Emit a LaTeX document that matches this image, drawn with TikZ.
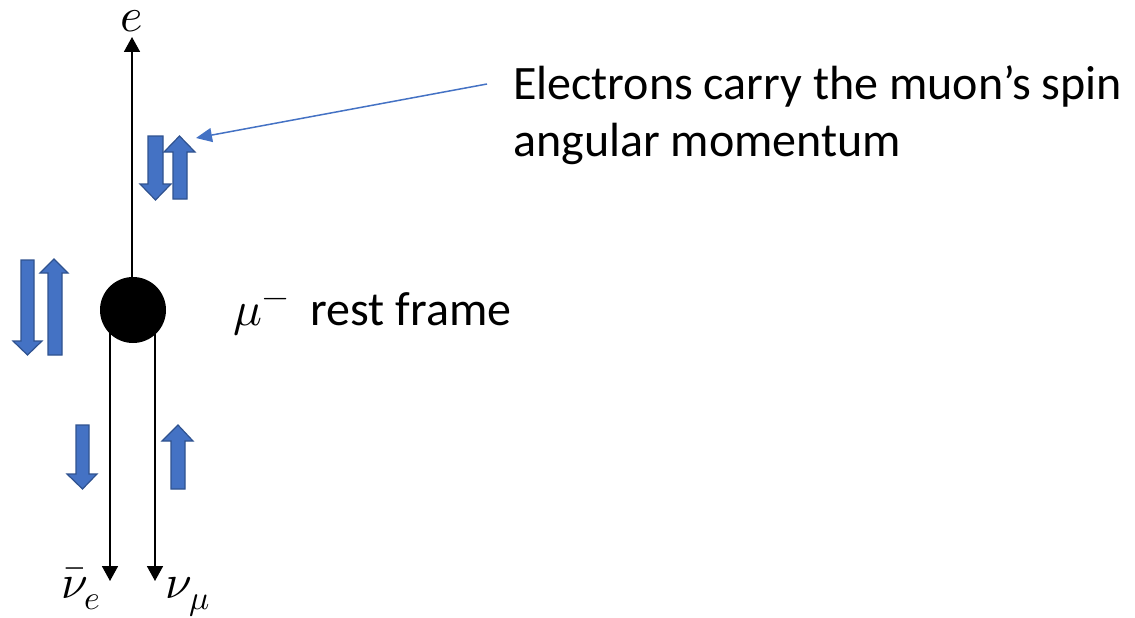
\documentclass[tikz,border=0pt]{standalone}
\usepackage{fontspec}
\usepackage{unicode-math}
\setmainfont{Carlito}
\setmathfont{Latin Modern Math}
\usetikzlibrary{arrows.meta}
\definecolor{bfill}{HTML}{4472C4}
\definecolor{bedge}{HTML}{2F528F}
\tikzset{
  blockarr/.style={fill=bfill,draw=bedge,line width=1.2pt,line join=miter},
  axis/.style={line width=1.8pt,-{Triangle[length=15pt,width=16pt]}},
  lbl/.style={inner sep=0pt,font=\fontsize{48}{57}\selectfont},
  point/.style={-{Triangle[length=16pt,width=14pt]},draw=bfill,line width=1.5pt}
}
\begin{document}
\begin{tikzpicture}[x=1pt,y=-1pt]
\useasboundingbox (0,0) rectangle (1135,618);
% muon
\node[circle,fill=black,minimum size=66pt,inner sep=0pt] (mu) at (133,310) {};
\coordinate (etip) at (132,37);
\coordinate (etop) at (132,292);
\coordinate (l0) at (110,330);
\coordinate (l1) at (110,581);
\coordinate (r0) at (155,330);
\coordinate (r1) at (155,581);
\draw[axis] (etop) -- (etip);
\draw[axis] (l0) -- (l1);
\draw[axis] (r0) -- (r1);
\node[lbl,anchor=base] (e) at (132,32) {$e$};
\node[lbl,anchor=base] (nue) at (81,598) {$\bar{\nu}_e$};
\node[lbl,anchor=base] (numu) at (188,598) {$\nu_\mu$};
\node[lbl,anchor=base west] (rest) at (233,325) {$\mu^-$\ \ rest frame};
\node[lbl,anchor=base west,align=left] (txt) at (513,156) {Electrons carry the muon’s spin\\angular momentum};
% block arrows
\path[blockarr] (148,136) -- (163,136) -- (163,184) -- (171,184) -- (155.5,200) -- (140,184) -- (148,184) -- cycle;
\path[blockarr] (173,199) -- (187,199) -- (187,152) -- (195,152) -- (179.5,136) -- (164,152) -- (173,152) -- cycle;
\path[blockarr] (21,260) -- (34,260) -- (34,341) -- (42,341) -- (27.5,355) -- (13,341) -- (21,341) -- cycle;
\path[blockarr] (48,355) -- (62,355) -- (62,273) -- (68,273) -- (54,259) -- (40,273) -- (48,273) -- cycle;
\path[blockarr] (76,425) -- (89,425) -- (89,474) -- (97,474) -- (82.5,489) -- (67,474) -- (76,474) -- cycle;
\path[blockarr] (171,489) -- (185,489) -- (185,441) -- (193,441) -- (178,425) -- (162,441) -- (171,441) -- cycle;
% pointer
\coordinate (pstart) at (487,84);
\coordinate (pend) at (196,138);
\draw[point] (pstart) -- (pend);
\end{tikzpicture}
\end{document}
